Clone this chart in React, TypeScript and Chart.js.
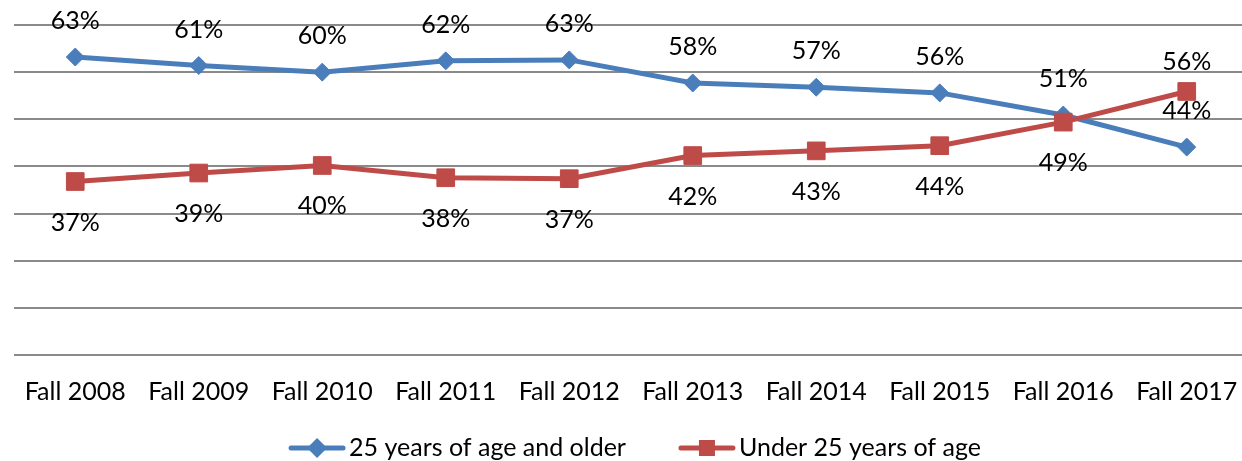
import React, { useEffect, useRef } from "react";
import { Chart, registerables } from "chart.js";

Chart.register(...registerables);

const categories = [
  "Fall 2008",
  "Fall 2009",
  "Fall 2010",
  "Fall 2011",
  "Fall 2012",
  "Fall 2013",
  "Fall 2014",
  "Fall 2015",
  "Fall 2016",
  "Fall 2017",
];
const seriesNames = ["25 years of age and older", "Under 25 years of age"];
const olderValues = [63.2, 61.4, 60.0, 62.4, 62.6, 57.7, 56.8, 55.6, 50.9, 44.1];
const youngerValues = [36.8, 38.6, 40.2, 37.6, 37.4, 42.3, 43.3, 44.4, 49.4, 55.9];
const olderLabelSides = ["above", "above", "above", "above", "above", "above", "above", "above", "above", "above"];
const youngerLabelSides = ["below", "below", "below", "below", "below", "below", "below", "below", "below", "above"];
const yMin = 0;
const yMax = 70;
const yStep = 10;

const BLUE = "#4A7EBB";
const RED = "#BE4B48";
const FONT = "Lato, 'Open Sans', sans-serif";
const FONT_SIZE = 25;
const labelSides = [olderLabelSides, youngerLabelSides];

const dataLabelsPlugin = {
  id: "dataLabelsCustom",
  afterDatasetsDraw(chart: any) {
    const ctx = chart.ctx;
    ctx.save();
    ctx.font = `${FONT_SIZE}px ${FONT}`;
    ctx.fillStyle = "#000";
    ctx.textAlign = "center";
    ctx.textBaseline = "alphabetic";
    chart.data.datasets.forEach((ds: any, di: number) => {
      const meta = chart.getDatasetMeta(di);
      meta.data.forEach((pt: any, i: number) => {
        const side = labelSides[di][i];
        const dy = side === "above" ? (di === 1 ? -21 : -28) : 49;
        ctx.fillText(`${Math.round(ds.data[i])}%`, pt.x, pt.y + dy);
      });
    });
    ctx.restore();
  },
};

const legendPlugin = {
  id: "legendCustom",
  afterDraw(chart: any) {
    const ctx = chart.ctx;
    const area = chart.chartArea;
    const lineLen = 56;
    const gapText = 4;
    const gapItems = 53;
    const y = 448;
    ctx.save();
    ctx.font = `${FONT_SIZE}px ${FONT}`;
    const items = chart.data.datasets.map((ds: any) => ({
      label: ds.label,
      color: ds.borderColor,
      style: ds.pointStyle,
      w: ctx.measureText(ds.label).width,
    }));
    const total =
      items.reduce((s: number, it: any) => s + lineLen + gapText + it.w, 0) +
      gapItems * (items.length - 1);
    let x = (area.left + area.right) / 2 + 4 - total / 2;
    items.forEach((it: any) => {
      ctx.strokeStyle = it.color;
      ctx.lineWidth = 5;
      ctx.lineCap = "round";
      ctx.beginPath();
      ctx.moveTo(x + 2, y);
      ctx.lineTo(x + lineLen - 2, y);
      ctx.stroke();
      ctx.fillStyle = it.color;
      const cx = x + lineLen / 2;
      ctx.beginPath();
      if (it.style === "rectRot") {
        const r = 10;
        ctx.moveTo(cx - r, y);
        ctx.lineTo(cx, y - r);
        ctx.lineTo(cx + r, y);
        ctx.lineTo(cx, y + r);
        ctx.closePath();
      } else {
        const h = 8;
        ctx.rect(cx - h, y - h, 2 * h, 2 * h);
      }
      ctx.fill();
      ctx.fillStyle = "#000";
      ctx.textAlign = "left";
      ctx.textBaseline = "alphabetic";
      ctx.fillText(it.label, x + lineLen + gapText, 456);
      x += lineLen + gapText + it.w + gapItems;
    });
    ctx.restore();
  },
};

export default function App() {
  const ref = useRef<HTMLCanvasElement>(null);
  useEffect(() => {
    const canvas = ref.current;
    if (!canvas) return;
    const chart = new Chart(canvas, {
      type: "line",
      data: {
        labels: categories,
        datasets: [
          {
            label: seriesNames[0],
            data: olderValues,
            borderColor: BLUE,
            backgroundColor: BLUE,
            borderWidth: 5,
            pointStyle: "rectRot",
            pointRadius: 9,
            pointBorderWidth: 1,
            pointBackgroundColor: BLUE,
            pointBorderColor: BLUE,
            tension: 0,
            fill: false,
            order: 1,
          },
          {
            label: seriesNames[1],
            data: youngerValues,
            borderColor: RED,
            backgroundColor: RED,
            borderWidth: 5,
            pointStyle: "rect",
            pointRadius: 12.5,
            pointBorderWidth: 1,
            pointBackgroundColor: RED,
            pointBorderColor: RED,
            tension: 0,
            fill: false,
            order: 0,
          },
        ],
      },
      options: {
        responsive: false,
        animation: false,
        layout: { padding: { left: 10, right: 10, top: 25, bottom: 0 } },
        plugins: {
          legend: { display: false },
          tooltip: { enabled: false },
        },
        scales: {
          x: {
            offset: true,
            grid: { display: false, drawTicks: false },
            border: { display: false },
            ticks: {
              font: { family: FONT, size: FONT_SIZE },
              color: "#000",
              padding: 22,
              maxRotation: 0,
              autoSkip: false,
            },
            afterFit: (s: any) => {
              s.height = 106;
            },
          },
          y: {
            min: yMin,
            max: yMax,
            ticks: { stepSize: yStep, display: false },
            grid: { color: "#8a8a8a", lineWidth: 2, drawTicks: false },
            border: { display: false },
            afterFit: (s: any) => {
              s.width = 0;
            },
          },
        },
      },
      plugins: [dataLabelsPlugin, legendPlugin],
    });
    return () => chart.destroy();
  }, []);
  return (
    <div
      style={{
        position: "fixed",
        left: 0,
        top: 0,
        width: 1242,
        height: 461,
        overflow: "hidden",
        background: "#fff",
      }}
    >
      <canvas ref={ref} width={1262} height={461} style={{ display: "block" }} />
    </div>
  );
}
